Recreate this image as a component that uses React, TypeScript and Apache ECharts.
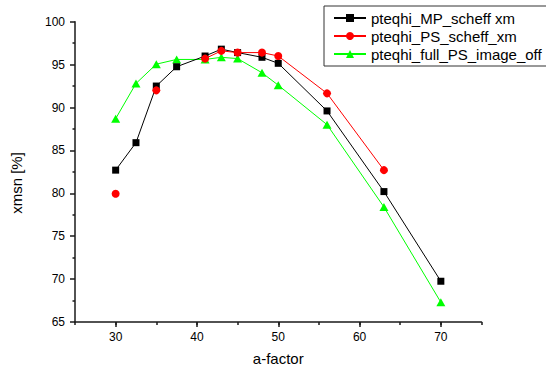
import React, { useEffect, useRef } from 'react';
import * as echarts from 'echarts';

const aFactor = [30, 32.5, 35, 37.5, 41, 43, 45, 48, 50, 56, 63, 70];
const mpScheffXm = [82.7, 85.9, 92.5, 94.75, 96.0, 96.8, 96.4, 95.85, 95.15, 89.6, 80.2, 69.75];
const psScheffXm = [79.95, null, 92.0, null, 95.7, 96.6, 96.4, 96.4, 96.0, 91.65, 82.7, null];
const fullPsImageOff = [88.7, 92.8, 95.05, 95.6, 95.6, 95.85, 95.7, 94.05, 92.6, 88.0, 78.4, 67.3];

const seriesNames = ['pteqhi_MP_scheff xm', 'pteqhi_PS_scheff_xm', 'pteqhi_full_PS_image_off'];
const xLabelValues = [30, 40, 50, 60, 70];
const xAxisTitle = 'a-factor';
const yAxisTitle = 'xmsn [%]';

const FONT = '"Liberation Sans", Arial, Helvetica, sans-serif';

function pairs(ys: (number | null)[]) {
  return aFactor.map((x, i) => [x, ys[i] === null ? null : ys[i]]);
}

export default function App() {
  const ref = useRef<HTMLDivElement>(null);
  useEffect(() => {
    if (!ref.current) return;
    document.body.style.margin = '0';
    const chart = echarts.init(ref.current, null, { renderer: 'svg' });
    const axisLineStyle = { color: '#1a1a1a', width: 1.5 };
    chart.setOption({
      animation: false,
      backgroundColor: '#fff',
      grid: { left: 75, right: 64.5, top: 21.7, bottom: 50, containLabel: false },
      legend: {
        orient: 'vertical',
        left: 324,
        top: 6,
        padding: [4.5, 40, 4.5, 9],
        itemWidth: 32,
        itemHeight: 10,
        itemGap: 3,
        borderColor: '#333',
        borderWidth: 1,
        backgroundColor: '#fff',
        textStyle: { fontSize: 15, lineHeight: 15, color: '#000', fontFamily: FONT },
        data: seriesNames,
      },
      xAxis: [
        {
          type: 'value',
          min: 25,
          max: 75,
          interval: 5,
          position: 'bottom',
          name: xAxisTitle,
          nameLocation: 'middle',
          nameGap: 29,
          nameTextStyle: { fontSize: 15, color: '#000', fontFamily: FONT },
          axisLine: { show: true, onZero: false, lineStyle: axisLineStyle },
          axisTick: { show: true, inside: false, length: 3, lineStyle: axisLineStyle },
          axisLabel: { customValues: xLabelValues, fontSize: 12, color: '#000', fontFamily: FONT, margin: 9 },
          splitLine: { show: false },
        },
        {
          type: 'value',
          min: 25,
          max: 75,
          position: 'bottom',
          axisLine: { show: false, onZero: false },
          axisTick: { show: true, inside: false, length: 5, customValues: xLabelValues, lineStyle: axisLineStyle },
          axisLabel: { show: false },
          splitLine: { show: false },
        },
      ],
      yAxis: {
        type: 'value',
        min: 65,
        max: 100,
        interval: 5,
        axisLine: { show: true, onZero: false, lineStyle: axisLineStyle },
        axisTick: { show: true, inside: false, length: 5, lineStyle: axisLineStyle },
        minorTick: { show: true, splitNumber: 2, length: 2.5, lineStyle: axisLineStyle },
        axisLabel: { fontSize: 12, color: '#000', fontFamily: FONT, margin: 10 },
        splitLine: { show: false },
        minorSplitLine: { show: false },
      },
      graphic: [
        {
          type: 'text',
          x: 16,
          y: 183,
          rotation: Math.PI / 2,
          style: {
            text: yAxisTitle,
            fontSize: 15,
            fontFamily: FONT,
            fill: '#000',
            align: 'center',
            verticalAlign: 'middle',
          },
        },
      ],
      series: [
        {
          name: seriesNames[0],
          type: 'line',
          xAxisIndex: 0,
          data: pairs(mpScheffXm),
          symbol: 'rect',
          symbolSize: 7,
          connectNulls: false,
          lineStyle: { color: '#000', width: 1 },
          itemStyle: { color: '#000' },
          z: 3,
        },
        {
          name: seriesNames[1],
          type: 'line',
          xAxisIndex: 0,
          data: pairs(psScheffXm),
          symbol: 'circle',
          symbolSize: 8,
          connectNulls: false,
          lineStyle: { color: '#ff0000', width: 1 },
          itemStyle: { color: '#ff0000' },
          z: 4,
        },
        {
          name: seriesNames[2],
          type: 'line',
          xAxisIndex: 0,
          data: pairs(fullPsImageOff),
          symbol: 'triangle',
          symbolSize: [9, 8],
          connectNulls: false,
          lineStyle: { color: '#00ff00', width: 1 },
          itemStyle: { color: '#00ff00' },
          z: 2,
        },
      ],
    });
    return () => chart.dispose();
  }, []);
  return <div ref={ref} style={{ position: 'absolute', left: 0, top: 0, width: 546, height: 372 }} />;
}
